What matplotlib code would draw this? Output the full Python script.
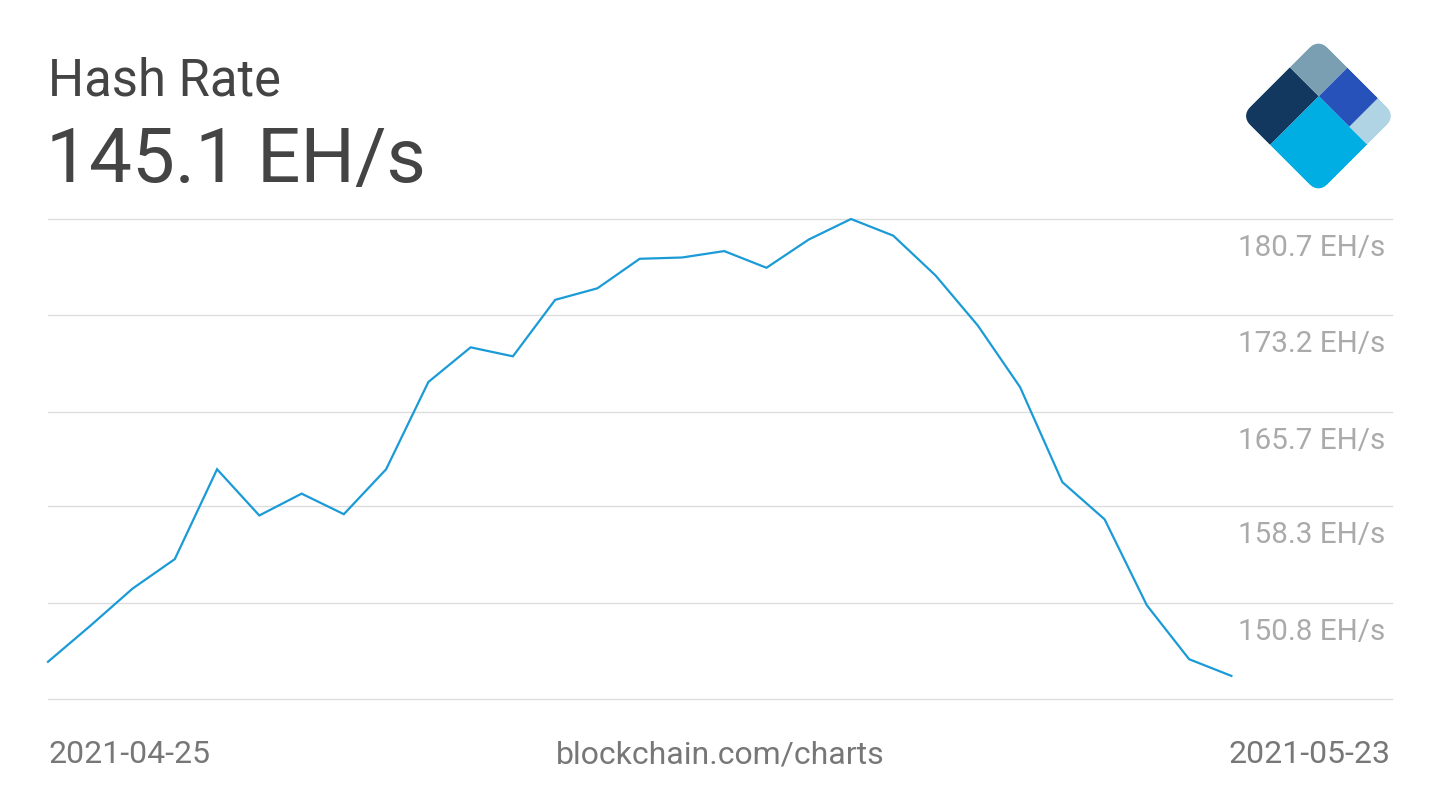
import numpy as np
import matplotlib.pyplot as plt
from matplotlib.patches import FancyBboxPatch, Rectangle
from matplotlib.transforms import Affine2D, offset_copy

plt.rcParams['font.family'] = ['Roboto', 'DejaVu Sans']

# daily hash rate, EH/s, 2021-04-25 .. 2021-05-23
hash_rate = [146.2, 149.0, 151.9, 154.2, 161.2, 157.6, 159.3, 157.7, 161.2, 168.0,
             170.7, 170.0, 174.4, 175.3, 177.6, 177.7, 178.2, 176.9, 179.1, 180.7,
             179.4, 176.3, 172.4, 167.6, 160.2, 157.3, 150.6, 146.4, 145.1]
grid_values = [143.3, 150.8, 158.3, 165.7, 173.2, 180.7]
grid_labels = ["", "150.8 EH/s", "158.3 EH/s", "165.7 EH/s", "173.2 EH/s", "180.7 EH/s"]
date_start = "2021-04-25"
date_end = "2021-05-23"
title = "Hash Rate"
headline = "145.1 EH/s"

W, H = 1440, 810
fig = plt.figure(figsize=(W / 100, H / 100), dpi=100)
fig.patch.set_facecolor("white")

# main chart area
ax = fig.add_axes([48 / W, (H - 699) / H, (1392 - 48) / W, (699 - 219) / H])
ax.set_xlim(0, 31.8)
ax.set_ylim(grid_values[0], grid_values[-1])
for v in grid_values:
    ax.axhline(v, color="#dddddd", lw=1, zorder=1, clip_on=False)
x = np.arange(len(hash_rate))
ax.plot(x, hash_rate, color="#1a9bd7", lw=1.6, zorder=3, clip_on=False,
        solid_joinstyle="miter")
ax.axis("off")

# tick labels just under each grid line, right aligned
for v, lab in zip(grid_values, grid_labels):
    if lab:
        tr = offset_copy(ax.transData, fig=fig, x=0, y=-29, units="dots")
        ax.text(31.65, v, lab, transform=tr, ha="right", va="center",
                fontsize=21.3, color="#aaaaaa")

# header texts
fig.text(48 / W, (H - 95) / H, title, fontsize=36.5, color="#444444",
         ha="left", va="baseline")
fig.text(46 / W, (H - 182) / H, headline, fontsize=55, color="#444444",
         ha="left", va="baseline")

# footer texts
fig.text(48 / W, (H - 763) / H, date_start, fontsize=23, color="#777777",
         ha="left", va="baseline")
fig.text(720 / W, (H - 763) / H, "blockchain.com/charts", fontsize=23,
         color="#777777", ha="center", va="baseline")
fig.text(1391 / W, (H - 763) / H, date_end, fontsize=23, color="#777777",
         ha="right", va="baseline")

# logo: rotated square split into coloured blocks
lax = fig.add_axes([0, 0, 1, 1])
lax.set_xlim(0, W)
lax.set_ylim(H, 0)
lax.axis("off")
side = 109.5
s = side / np.sqrt(2)
ox, oy = 1241, 116
rot = Affine2D(np.array([[s, s, ox], [-s, s, oy], [0, 0, 1]])) + lax.transData

clip = FancyBboxPatch((0, 0), 1, 1, boxstyle="round,pad=0,rounding_size=0.13",
                      transform=rot, facecolor="none", edgecolor="none")
lax.add_patch(clip)
blocks = [
    (0.0, 0.0, 0.63, 0.375, "#13385f"),
    (0.63, 0.0, 0.37, 0.375, "#7a9fb2"),
    (0.63, 0.375, 0.37, 0.395, "#2652ba"),
    (0.63, 0.77, 0.37, 0.23, "#b0d4e4"),
    (0.0, 0.375, 0.63, 0.625, "#00aee4"),
]
for u0, w0, du, dw, col in blocks:
    r = Rectangle((u0, w0), du, dw, transform=rot, facecolor=col, edgecolor="none")
    lax.add_patch(r)
    r.set_clip_path(clip)

fig.savefig("out.png", dpi=100)
